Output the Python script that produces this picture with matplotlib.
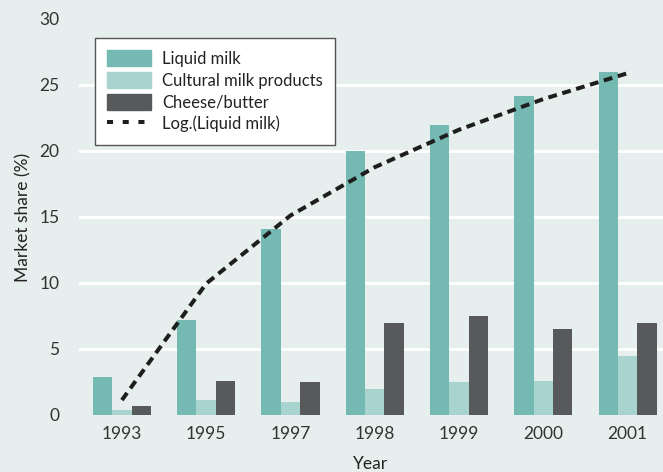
import numpy as np
from matplotlib import pyplot as plt
from matplotlib.patches import Patch
from matplotlib.lines import Line2D

# data
years = ["1993", "1995", "1997", "1998", "1999", "2000", "2001"]
liquid_milk = [2.9, 7.2, 14.1, 20.0, 22.0, 24.2, 26.0]
cultural_milk = [0.4, 1.1, 1.0, 2.0, 2.5, 2.6, 4.5]
cheese_butter = [0.7, 2.6, 2.5, 7.0, 7.5, 6.5, 7.0]
y_ticks = [0, 5, 10, 15, 20, 25, 30]

teal = "#74b9b2"
light_teal = "#a9d3cf"
dark = "#58595b"
bg = "#e6efed"

plt.rcParams['font.family'] = ['Lato', 'DejaVu Sans']

fig = plt.figure(figsize=(6.63, 4.72), dpi=100, facecolor=bg)
ax = fig.add_axes([0.119, 0.1208, 0.881, 0.839])
ax.set_facecolor(bg)

x = np.arange(len(years))
w = 0.23
ax.bar(x - w, liquid_milk, w, color=teal, zorder=2)
ax.bar(x, cultural_milk, w, color=light_teal, zorder=2)
ax.bar(x + w, cheese_butter, w, color=dark, zorder=2)

# logarithmic trend of liquid milk, Excel style (x = 1..n), drawn at each category
n = np.arange(1, len(years) + 1)
a, b = np.polyfit(np.log(n), liquid_milk, 1)
ax.plot(x, a * np.log(n) + b, color="#1e1e1e", lw=2.9,
        linestyle=(0, (2.2, 1.4)), zorder=3)

ax.set_xlim(-0.51, 6.42)
ax.set_ylim(0, 30)
ax.set_yticks(y_ticks)
ax.set_xticks(x)
ax.set_xticklabels(years)
ax.tick_params(length=0, labelsize=12.5, colors="#333333", pad=8)
ax.tick_params(axis='y', pad=14)
ax.grid(axis='y', color='white', lw=2, zorder=1)
gls = ax.yaxis.get_gridlines()
gls[0].set_visible(False)
gls[-1].set_visible(False)
for s in ax.spines.values():
    s.set_visible(False)

ax.set_ylabel("Market share (%)", fontsize=12.5, color="#222222", labelpad=6)
ax.set_xlabel("Year", fontsize=12.5, color="#222222", labelpad=10)

handles = [Patch(color=teal), Patch(color=light_teal), Patch(color=dark),
           Line2D([], [], color="#1e1e1e", lw=2.9, linestyle=(0, (1.5, 2.4)))]
labels = ["Liquid milk", "Cultural milk products", "Cheese/butter", "Log.(Liquid milk)"]
leg = ax.legend(handles, labels, loc="upper left", bbox_to_anchor=(0.027, 0.952),
                fontsize=12, fancybox=False, framealpha=1, edgecolor="#555555",
                handlelength=2.6, handleheight=1.1, labelspacing=0.3,
                borderpad=0.75, handletextpad=0.7, borderaxespad=0)
leg.get_frame().set_linewidth(1)
for t in leg.get_texts():
    t.set_color("#222222")

fig.savefig("out.png", dpi=100, facecolor=bg)
